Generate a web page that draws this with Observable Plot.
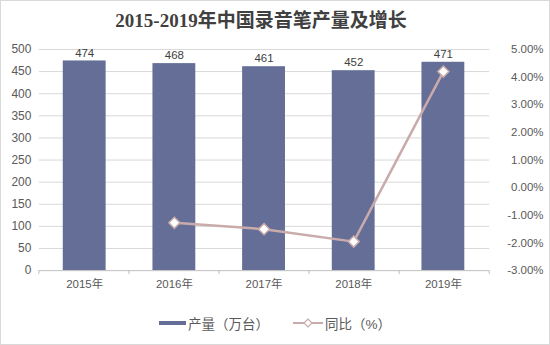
<!DOCTYPE html>
<html><head><meta charset="utf-8">
<script src="https://cdn.jsdelivr.net/npm/d3@7"></script>
<script src="https://cdn.jsdelivr.net/npm/@observablehq/plot@0.6"></script>
<style>
body{margin:0;background:#fff;}
#wrap{position:relative;width:548px;height:343px;border:1px solid #d9d9d9;font-family:"Liberation Sans","Noto Sans CJK SC",sans-serif;overflow:hidden;}
#title{height:36px;line-height:40px;text-align:center;padding-right:28px;font-family:"Liberation Serif","Noto Sans CJK SC",serif;font-weight:bold;font-size:19px;color:#404040;}
#legend{position:absolute;top:312px;left:0;width:548px;display:flex;justify-content:center;gap:24px;font-size:13.5px;color:#595959;box-sizing:border-box;}
.item{display:flex;align-items:center;gap:2px;}
</style></head>
<body><div id="wrap"><div id="title">2015-2019年中国录音笔产量及增长</div><div id="chart"></div><div id="legend"></div></div>
<script>
const years = ["2015年","2016年","2017年","2018年","2019年"];
const output = [474, 468, 461, 452, 471];
const growthYears = ["2016年","2017年","2018年","2019年"];
const growth = [-1.27, -1.50, -1.95, 4.20];
const leftTicks = [0,50,100,150,200,250,300,350,400,450,500];
const pctTicks = [-3,-2,-1,0,1,2,3,4,5];

const barColor = "#646e96";
const lineColor = "#c9abab";
const pMin = -3, pMax = 5, yMax = 500;
const toY = p => (p - pMin) / (pMax - pMin) * yMax;
const fromY = v => pMin + v / yMax * (pMax - pMin);

const bars = years.map((y,i)=>({year:y, value:output[i]}));
const pts = growthYears.map((y,i)=>({year:y, pct:growth[i], yv:toY(growth[i])}));

const chart = Plot.plot({
  width: 550, height: 265,
  marginTop: 12, marginBottom: 31, marginLeft: 38, marginRight: 60,
  style: {fontFamily: '"Liberation Sans","Noto Sans CJK SC",sans-serif', fontSize: "11px", color: "#595959", background: "transparent"},
  x: {domain: years, paddingInner: 0.52, paddingOuter: 0.26, label: null},
  y: {domain: [0, yMax], label: null},
  marks: [
    Plot.ruleY(leftTicks.filter(d=>d>0), {stroke: "#d9d9d9", strokeWidth: 1}),
    Plot.barY(bars, {x: "year", y: "value", fill: barColor}),
    Plot.ruleY([0], {stroke: "#bfbfbf", strokeWidth: 1}),
    (index, scales, values, dims) => {
      const g = d3.create("svg:g");
      const start = dims.marginLeft;
      const y0 = dims.height - dims.marginBottom;
      const w = (dims.width - dims.marginLeft - dims.marginRight) / years.length;
      for (let k = 0; k <= years.length; k++) {
        const xx = start + k * w;
        g.append("line").attr("x1", xx).attr("x2", xx).attr("y1", y0).attr("y2", y0 + 4).attr("stroke", "#bfbfbf");
      }
      return g.node();
    },
    Plot.text(bars, {x: "year", y: "value", text: d => String(d.value), dy: -8, fill: "#404040", fontSize: 11.5}),
    Plot.line(pts, {x: "year", y: "yv", stroke: lineColor, strokeWidth: 2.5}),
    Plot.dot(pts, {x: "year", y: "yv", symbol: "diamond2", r: 5, fill: "#fff", stroke: lineColor, strokeWidth: 1.5}),
    Plot.axisY(leftTicks, {anchor: "left", tickSize: 0, tickPadding: 8, fontSize: 12, fill: "#595959"}),
    Plot.axisY(pctTicks.map(toY), {anchor: "right", tickSize: 0, tickPadding: 54, textAnchor: "end", fontSize: 11.5, fill: "#595959", tickFormat: v => fromY(v).toFixed(2) + "%"}),
    Plot.axisX({tickSize: 0, tickPadding: 9, fontSize: 11.5, fill: "#595959"})
  ]
});
document.getElementById("chart").appendChild(chart);

const legend = document.getElementById("legend");
legend.innerHTML = `
<div class="item"><svg width="27" height="10"><rect x="0" y="3" width="27" height="4" fill="${barColor}"/></svg><span>产量（万台）</span></div>
<div class="item"><svg width="30" height="10"><line x1="0" x2="30" y1="5" y2="5" stroke="${lineColor}" stroke-width="2"/><path d="M15,1 L19,5 L15,9 L11,5 Z" fill="#fff" stroke="${lineColor}" stroke-width="1.2"/></svg><span>同比（%）</span></div>`;
</script>
</body></html>
